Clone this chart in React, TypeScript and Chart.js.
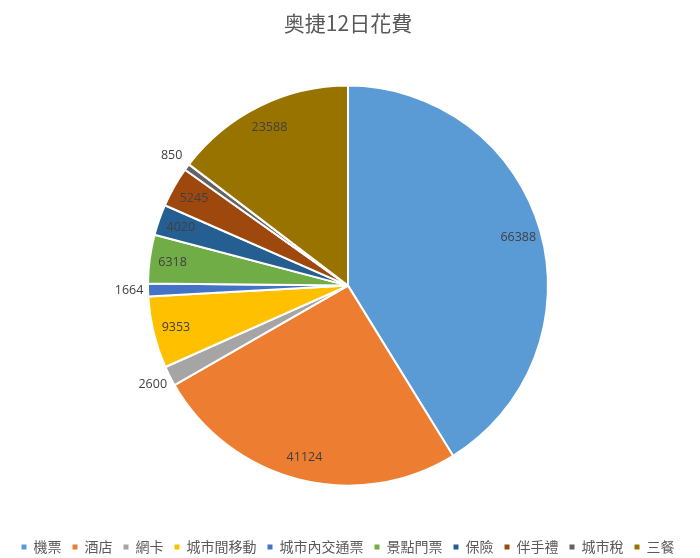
import { useEffect, useRef } from 'react';
import { Chart, registerables } from 'chart.js';

Chart.register(...registerables);

// Trip expenses by category
const categories = ['機票', '酒店', '網卡', '城市間移動', '城市內交通票', '景點門票', '保險', '伴手禮', '城市稅', '三餐'];
const amounts = [66388, 41124, 2600, 9353, 1664, 6318, 4020, 5245, 850, 23588];
const sliceColors = ['#5B9BD5', '#ED7D31', '#A5A5A5', '#FFC000', '#4472C4', '#70AD47', '#255E91', '#9E480E', '#636363', '#997300'];

const CJK = "'Noto Sans CJK TC', 'Noto Sans', sans-serif";

// Excel-like value labels: inside near the rim, small slices outside
const valueLabels = {
  id: 'valueLabels',
  afterDatasetsDraw(chart: Chart) {
    const { ctx } = chart;
    const meta = chart.getDatasetMeta(0);
    ctx.save();
    ctx.font = "12.5px 'Open Sans', sans-serif";
    ctx.fillStyle = '#404040';
    ctx.textAlign = 'center';
    ctx.textBaseline = 'middle';
    meta.data.forEach((arc: any, i: number) => {
      const { startAngle, endAngle, x, y, outerRadius } = arc.getProps(['startAngle', 'endAngle', 'x', 'y', 'outerRadius'], true);
      const mid = (startAngle + endAngle) / 2;
      const span = endAngle - startAngle;
      const r = span < 0.105 ? outerRadius * 1.095 : outerRadius * 0.885;
      ctx.fillText(String(amounts[i]), x + Math.cos(mid) * r, y + Math.sin(mid) * r);
    });
    ctx.restore();
  },
};

const PieChart = () => {
  const chartRef = useRef<HTMLCanvasElement | null>(null);
  const chartInstance = useRef<Chart | null>(null);

  useEffect(() => {
    document.body.style.margin = '0';
    document.body.style.overflow = 'hidden';
    if (!chartRef.current) return;
    const ctx = chartRef.current.getContext('2d');
    if (!ctx) return;

    if (chartInstance.current) {
      chartInstance.current.destroy();
    }

    chartInstance.current = new Chart(ctx, {
      type: 'pie',
      data: {
        labels: categories,
        datasets: [
          {
            data: amounts,
            backgroundColor: sliceColors,
            borderColor: '#ffffff',
            borderWidth: 2,
          },
        ],
      },
      options: {
        responsive: true,
        maintainAspectRatio: false,
        animation: false,
        radius: 200,
        layout: { padding: { left: 0, right: 4, top: 0, bottom: -6 } },
        plugins: {
          title: {
            display: true,
            text: '奥捷12日花費',
            color: '#595959',
            font: { family: CJK, size: 21, weight: 'normal' },
            padding: { top: 10, bottom: 7 },
          },
          legend: {
            position: 'bottom',
            labels: {
              boxWidth: 5,
              boxHeight: 5,
              padding: 11,
              color: '#595959',
              font: { family: CJK, size: 14 },
              generateLabels: (chart: Chart) =>
                (Chart as any).overrides.pie.plugins.legend.labels
                  .generateLabels(chart)
                  .map((item: any) => ({ ...item, lineWidth: 0 })),
            },
          },
          tooltip: { enabled: false },
        },
      },
      plugins: [valueLabels],
    });

    return () => {
      if (chartInstance.current) {
        chartInstance.current.destroy();
        chartInstance.current = null;
      }
    };
  }, []);

  return (
    <div style={{ position: 'relative', width: 700, height: 558 }}>
      <canvas ref={chartRef} />
    </div>
  );
};

export default function App() {
  return <PieChart />;
}
